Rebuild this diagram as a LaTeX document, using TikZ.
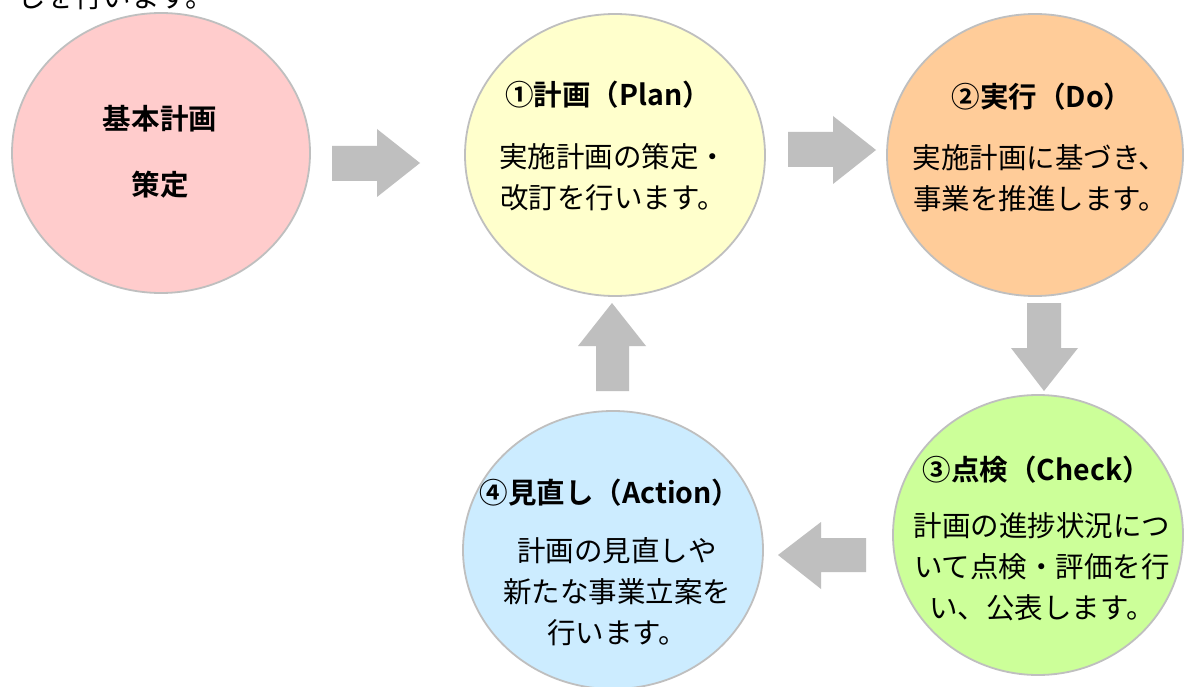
\documentclass[tikz,border=0pt]{standalone}
\usepackage{fontspec}
\newfontfamily\jp{Noto Sans CJK JP}[BoldFont={Noto Sans CJK JP Bold}]
\usetikzlibrary{shapes.geometric}
\definecolor{cpink}{HTML}{FFCCCC}
\definecolor{cyellow}{HTML}{FFFFCC}
\definecolor{corange}{HTML}{FFCC99}
\definecolor{cgreen}{HTML}{CCFF99}
\definecolor{cblue}{HTML}{CCECFF}
\definecolor{cborder}{HTML}{BFBFBF}
\definecolor{carrow}{HTML}{BFBFBF}
\begin{document}
\begin{tikzpicture}[x=1bp,y=-1bp,
  phase/.style={ellipse, draw=cborder, line width=1.8bp, inner sep=0pt},
  body/.style={align=center, font=\jp\fontsize{28.5bp}{41bp}\selectfont, inner sep=0pt},
  ttl/.style={font=\jp\bfseries\fontsize{28.5bp}{32bp}\selectfont, inner sep=0pt},
  blk/.style={fill=carrow, draw=none}]
\useasboundingbox (0,0) rectangle (1185,687);
\fill[white] (0,0) rectangle (1185,687);

% partially visible sentence at the top
\node[body, anchor=base west] (topline) at (17,8) {しを行います。};

% circles
\node[phase, fill=cpink,   minimum width=298bp, minimum height=280bp] (c0) at (161,153) {};
\node[phase, fill=cyellow, minimum width=300bp, minimum height=282bp] (c1) at (615,155) {};
\node[phase, fill=corange, minimum width=296bp, minimum height=282bp] (c2) at (1035,155) {};
\node[phase, fill=cgreen,  minimum width=290bp, minimum height=280bp] (c3) at (1038,535) {};
\node[phase, fill=cblue,   minimum width=300bp, minimum height=278bp] (c4) at (613,550) {};

% texts
\node[ttl] (t0a) at (160,119) {基本計画};
\node[ttl] (t0b) at (160,185) {策定};

\node[ttl] (t1) at (608,95) {①計画（Plan）};
\node[body] (b1) at (613,177.5) {実施計画の策定・\\改訂を行います。};

\node[ttl] (t2) at (1042,97) {②実行（Do）};
\node[body] (b2) at (1040,178.5) {実施計画に基づき、\\事業を推進します。};

\node[ttl] (t3) at (1037,470) {③点検（Check）};
\node[body] (b3) at (1042,567) {計画の進捗状況につ\\いて点検・評価を行\\い、公表します。};

\node[ttl] (t4) at (610,493) {④見直し（Action）};
\node[body] (b4) at (617,591.5) {計画の見直しや\\新たな事業立案を\\行います。};

% block arrows
\fill[blk] (332,146) -- (377,146) -- (377,129) -- (420,163) -- (377,197) -- (377,181) -- (332,181) -- cycle;
\fill[blk] (788,132) -- (833,132) -- (833,116) -- (876,150) -- (833,184) -- (833,167) -- (788,167) -- cycle;
\fill[blk] (1027,303) -- (1061,303) -- (1061,348) -- (1078,348) -- (1044,391) -- (1011,348) -- (1027,348) -- cycle;
\fill[blk] (866,538) -- (821,538) -- (821,522) -- (778,555) -- (821,589) -- (821,572) -- (866,572) -- cycle;
\fill[blk] (596,391) -- (596,346) -- (578,346) -- (612,303) -- (646,346) -- (629,346) -- (629,391) -- cycle;
\end{tikzpicture}
\end{document}
